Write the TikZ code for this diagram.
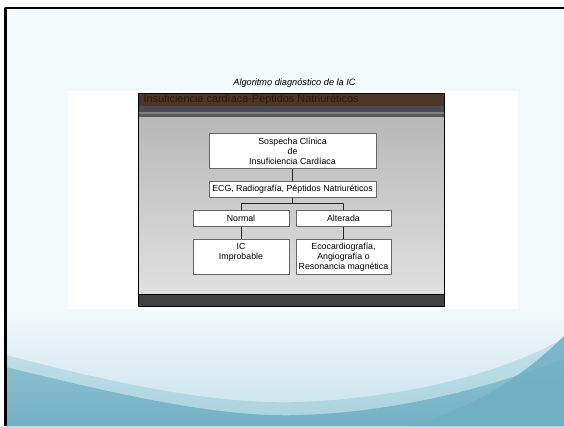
\documentclass[tikz,border=0pt]{standalone}
\usepackage{fontspec}
\setmainfont{Liberation Sans}
\definecolor{pale}{HTML}{F4F9FB}
\definecolor{teal1}{HTML}{C3E1EA}
\definecolor{teal2}{HTML}{A9D2DE}
\definecolor{teal3}{HTML}{8EC3D2}
\definecolor{teal4}{HTML}{70B0C3}
\definecolor{brownhd}{HTML}{4B3628}
\definecolor{browntx}{HTML}{2E1A0A}
\definecolor{slate}{HTML}{474C55}
\definecolor{barfill}{HTML}{424244}
\begin{document}
\begin{tikzpicture}[x=1pt, y=-1pt, line join=round,
		box/.style={draw=gray!80!black, fill=white, line width=0.8pt, align=center, inner sep=0pt, font=\fontsize{8.8}{10}\selectfont},
		link/.style={draw=black!85, line width=0.9pt}]
			\useasboundingbox (0,0) rectangle (564,426);
			\fill[white] (0,0) rectangle (564,426);
			\fill[pale] (5,8) rectangle (564,426);
			\fill[white] (68,91) rectangle (518,309);
			\fill[brownhd] (138,93.5) rectangle (444,106);
			\node[anchor=west, text=browntx, font=\fontsize{10.9}{12}\selectfont] (header) at (140,100) {Insuficiencia cardíaca-Péptidos Natriuréticos};
			\fill[slate] (138,106) rectangle (444,112);
			\fill[gray] (138,112) rectangle (444,113.5);
			\fill[black!65] (138,113.5) rectangle (444,117);
			\fill[barfill] (138,294) rectangle (444,306);
			\begin{scope}
				\clip (6,9) rectangle (564,426);
				\shade[top color=pale, bottom color=teal1] (6,310) rectangle (564,426);
				\shade[top color=teal1, bottom color=teal2] (6,355) .. controls (120,385) and (220,405) .. (300,402) .. controls (400,398) and (500,375) .. (564,338) -- (564,426) -- (6,426) -- cycle;
				\shade[top color=teal3, bottom color=teal4] (6,367) .. controls (120,395) and (220,418) .. (300,415) .. controls (400,412) and (500,385) .. (564,358) -- (564,426) -- (6,426) -- cycle;
				\fill[teal4, opacity=0.85] (564,336) .. controls (520,380) and (470,408) .. (410,426) -- (564,426) -- cycle;
			\end{scope}
			\shade[top color=black!28, bottom color=black!12] (138,117) rectangle (444,294);
			\draw[line width=2.6pt] (5.3,426) -- (5.3,8) -- (564,8);
			\node (title) at (294.5,82.7) {\fontsize{9.2}{11}\selectfont\itshape Algoritmo diagnóstico de la IC};
			\draw[line width=0.9pt] (138,93.5) rectangle (444,306);
			\draw[line width=0.6pt] (138,294) -- (444,294);
			\node[box, minimum width=167, minimum height=35] (sospecha) at (292.5,150.8) {Sospecha Clínica\\de\\Insuficiencia Cardíaca};
			\node[box, minimum width=167, minimum height=15.6] (pruebas) at (292.5,189.5) {ECG, Radiografía, Péptidos Natriuréticos};
			\node[box, minimum width=96, minimum height=15.6] (normal) at (241,218.5) {Normal};
			\node[box, minimum width=95, minimum height=15.6] (alterada) at (343.5,218.5) {Alterada};
			\node[box, minimum width=96, minimum height=35] (improbable) at (241,256.8) {IC\\Improbable\\\mbox{}};
			\node[box, minimum width=95, minimum height=35] (eco) at (343.5,256.8) {Ecocardiografía,\\Angiografía o\\Resonancia magnética};
			\coordinate (split) at (292.5,203.7);
			\draw[link] (sospecha) -- (pruebas);
			\draw[link] (pruebas) -- (split);
			\draw[link] (normal.north) |- (split) -| (alterada.north);
			\draw[link] (normal) -- (improbable);
			\draw[link] (alterada) -- (eco);
		\end{tikzpicture}
\end{document}
